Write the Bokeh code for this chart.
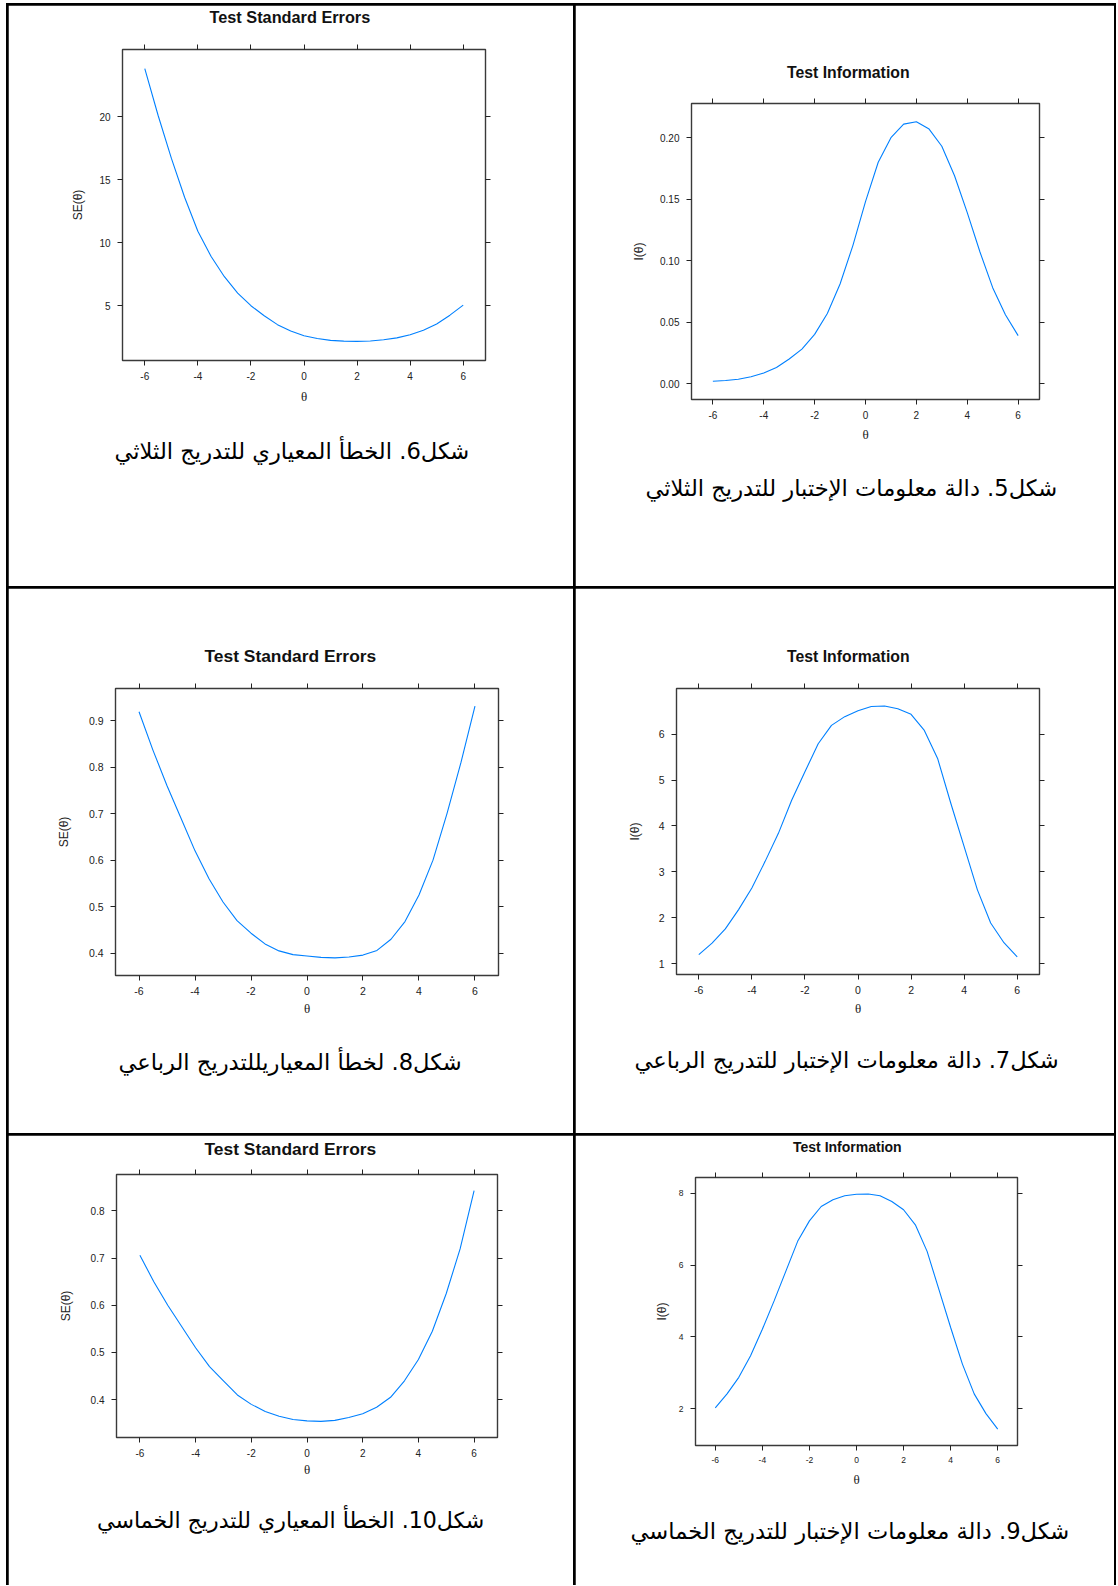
from bokeh.plotting import figure
from bokeh.models import Range1d, FixedTicker, LinearAxis, Title, Spacer, NumeralTickFormatter
from bokeh.layouts import row, column
from bokeh.embed import file_html
from bokeh.resources import INLINE

# ---------------- data ----------------
theta = [-6.0, -5.5, -5.0, -4.5, -4.0, -3.5, -3.0, -2.5, -2.0, -1.5, -1.0, -0.5,
         0.0, 0.5, 1.0, 1.5, 2.0, 2.5, 3.0, 3.5, 4.0, 4.5, 5.0, 5.5, 6.0]

se_3 = [23.8, 20.1, 16.7, 13.6, 10.9, 8.9, 7.3, 6.0, 5.0, 4.2, 3.5, 3.0,
        2.62, 2.4, 2.25, 2.19, 2.17, 2.2, 2.3, 2.45, 2.7, 3.05, 3.55, 4.25, 5.05]
info_3 = [0.0018, 0.0025, 0.0035, 0.0055, 0.0085, 0.013, 0.020, 0.028, 0.040, 0.057, 0.081, 0.112,
          0.148, 0.180, 0.200, 0.211, 0.213, 0.207, 0.193, 0.169, 0.139, 0.107, 0.078, 0.056, 0.039]
se_4 = [0.919, 0.836, 0.760, 0.690, 0.620, 0.560, 0.510, 0.470, 0.443, 0.420, 0.405, 0.397,
        0.394, 0.391, 0.390, 0.392, 0.396, 0.406, 0.430, 0.468, 0.525, 0.600, 0.700, 0.810, 0.931]
info_4 = [1.20, 1.45, 1.76, 2.18, 2.65, 3.23, 3.84, 4.56, 5.18, 5.79, 6.19, 6.38,
          6.51, 6.60, 6.61, 6.55, 6.43, 6.08, 5.47, 4.49, 3.55, 2.61, 1.89, 1.46, 1.15]
se_5 = [0.706, 0.650, 0.600, 0.555, 0.510, 0.470, 0.440, 0.410, 0.390, 0.375, 0.365, 0.358,
        0.355, 0.354, 0.356, 0.362, 0.370, 0.384, 0.405, 0.440, 0.485, 0.545, 0.625, 0.720, 0.843]
info_5 = [2.02, 2.41, 2.87, 3.47, 4.21, 5.00, 5.83, 6.66, 7.23, 7.63, 7.82, 7.93,
          7.97, 7.98, 7.93, 7.77, 7.54, 7.12, 6.38, 5.32, 4.26, 3.24, 2.41, 1.86, 1.43]

x_ticks = [-6, -4, -2, 0, 2, 4, 6]
x_tick_labels = ["-6", "-4", "-2", "0", "2", "4", "6"]
se3_ticks = [5, 10, 15, 20]
se3_labels = ["5", "10", "15", "20"]
info3_ticks = [0.0, 0.05, 0.10, 0.15, 0.20]
info3_labels = ["0.00", "0.05", "0.10", "0.15", "0.20"]
se4_ticks = [0.4, 0.5, 0.6, 0.7, 0.8, 0.9]
se4_labels = ["0.4", "0.5", "0.6", "0.7", "0.8", "0.9"]
info4_ticks = [1, 2, 3, 4, 5, 6]
info4_labels = ["1", "2", "3", "4", "5", "6"]
se5_ticks = [0.4, 0.5, 0.6, 0.7, 0.8]
se5_labels = ["0.4", "0.5", "0.6", "0.7", "0.8"]
info5_ticks = [2, 4, 6, 8]
info5_labels = ["2", "4", "6", "8"]

title_se = "Test Standard Errors"
title_info = "Test Information"
ylab_se = "SE(\u03b8)"
ylab_info = "I(\u03b8)"
xlab = "\u03b8"

captions = [
    "شكل6. الخطأ المعياري للتدريج الثلاثي",
    "شكل5. دالة معلومات الإختبار للتدريج الثلاثي",
    "شكل8. لخطأ المعياريللتدريج الرباعي",
    "شكل7. دالة معلومات الإختبار للتدريج الرباعي",
    "شكل10. الخطأ المعياري للتدريج الخماسي",
    "شكل9. دالة معلومات الإختبار للتدريج الخماسي",
]

LINE = "#0080ff"
INK = "#222222"
CAP_SIZE = "22.6px"


def lattice_range(vals):
    lo, hi = min(vals), max(vals)
    pad = 0.07 * (hi - lo)
    return Range1d(lo - pad, hi + pad)


def panel(w, h, lb, rb, tb, bb, yvals, yticks, ylabels, fmt, title, tsize, toff, tgap,
          ylab, ylab_standoff, xlab_standoff, tick_size, caption, coff, cstand, cap_size=CAP_SIZE):
    p = figure(width=w, height=h, output_backend="svg", toolbar_location=None,
               title=None, min_border_left=lb, min_border_right=rb,
               min_border_top=tb, min_border_bottom=bb,
               x_range=lattice_range(theta), y_range=lattice_range(yvals))
    p.frame_align = False
    p.grid.visible = False
    p.outline_line_color = "#3a3a3a"
    p.outline_line_width = 1.4
    p.background_fill_color = "white"
    p.border_fill_color = "white"

    p.line(theta, yvals, line_color=LINE, line_width=1.1)

    xa = p.xaxis[0]
    ya = p.yaxis[0]
    xa.ticker = FixedTicker(ticks=x_ticks)
    xa.major_label_overrides = dict(zip(x_ticks, x_tick_labels))
    ya.ticker = FixedTicker(ticks=yticks)
    ya.formatter = NumeralTickFormatter(format=fmt)
    ya.major_label_overrides = dict(zip(yticks, ylabels))
    for ax in (xa, ya):
        ax.axis_line_color = None
        ax.major_tick_out = 5
        ax.major_tick_in = 0
        ax.minor_tick_line_color = None
        ax.major_tick_line_color = INK
        ax.major_label_text_font = "Liberation Sans"
        ax.major_label_text_font_size = tick_size
        ax.major_label_text_color = INK
        ax.major_label_standoff = 6
    ya.major_label_standoff = 7
    xa.axis_label = xlab
    xa.axis_label_text_font = "Liberation Serif"
    xa.axis_label_text_font_style = "normal"
    xa.axis_label_text_font_size = "13px"
    xa.axis_label_text_color = INK
    xa.axis_label_standoff = xlab_standoff
    ya.axis_label = ylab
    ya.axis_label_text_font = "Liberation Sans"
    ya.axis_label_text_font_style = "normal"
    ya.axis_label_text_font_size = "12px"
    ya.axis_label_text_color = INK
    ya.axis_label_standoff = ylab_standoff

    # lattice-style ticks on the top and right sides (no labels)
    top = LinearAxis(ticker=FixedTicker(ticks=x_ticks))
    right = LinearAxis(ticker=FixedTicker(ticks=yticks))
    for ax in (top, right):
        ax.axis_line_color = None
        ax.major_tick_out = 5
        ax.major_tick_in = 0
        ax.minor_tick_line_color = None
        ax.major_tick_line_color = INK
        ax.major_label_text_font_size = "0px"
        ax.major_label_text_color = None
        ax.major_label_standoff = 0
    # blank, invisible axis label that only reserves room between the top ticks and the title
    top.axis_label = " "
    top.axis_label_text_color = "white"
    top.axis_label_text_font_size = "2px"
    top.axis_label_standoff = int(round(tgap))
    p.add_layout(top, "above")
    p.add_layout(right, "right")

    p.add_layout(Title(text=title, align="left", offset=toff, standoff=0,
                       text_font="Liberation Sans", text_font_style="bold",
                       text_font_size=tsize, text_color="#111111"), "above")
    p.add_layout(Title(text=caption, align="left", offset=coff, standoff=cstand,
                       text_font="DejaVu Sans", text_font_style="normal",
                       text_font_size=cap_size, text_color="black"), "below")
    return p


p1 = panel(565, 581, 114, 88, 44, 226, se_3, se3_ticks, se3_labels, "0", title_se, "16.3px", 87, 14,
           ylab_se, 11, 6, "10px", captions[0], -8, 58)
p2 = panel(539, 581, 116, 75, 98, 187, info_3, info3_ticks, info3_labels, "0.00", title_info, "15.8px", 95.5, 13,
           ylab_info, 11, 5, "10px", captions[1], -46, 56)
p3 = panel(565, 545, 107, 75, 100, 158, se_4, se4_ticks, se4_labels, "0.0", title_se, "17.4px", 89, 13,
           ylab_se, 15, 3, "10.5px", captions[2], 3, 57)
p4 = panel(539, 545, 101, 75, 100, 159, info_4, info4_ticks, info4_labels, "0", title_info, "15.8px", 110.5, 14,
           ylab_info, 14, 4, "10.5px", captions[3], -42, 53)
p5 = panel(565, 450, 108, 76, 39, 148, se_5, se5_ticks, se5_labels, "0.0", title_se, "17.4px", 88, 6,
           ylab_se, 15, 2, "10px", captions[4], -19.5, 51, "22.1px")
p6 = panel(539, 450, 120, 97, 42, 140, info_5, info5_ticks, info5_labels, "0", title_info, "14px", 97.5, 13,
           ylab_info, 7, 6, "8.5px", captions[5], -65, 52)


def cell_row(a, b, h):
    return row(Spacer(width=0, height=h), a, b, Spacer(width=0, height=h), spacing=2)


root = column(Spacer(width=1110, height=0),
              cell_row(p1, p2, 581), cell_row(p3, p4, 545), cell_row(p5, p6, 450),
              spacing=2,
              styles={"background-color": "black", "margin-left": "6px", "margin-top": "3px"})

open("out.html", "w").write(file_html(root, INLINE))
